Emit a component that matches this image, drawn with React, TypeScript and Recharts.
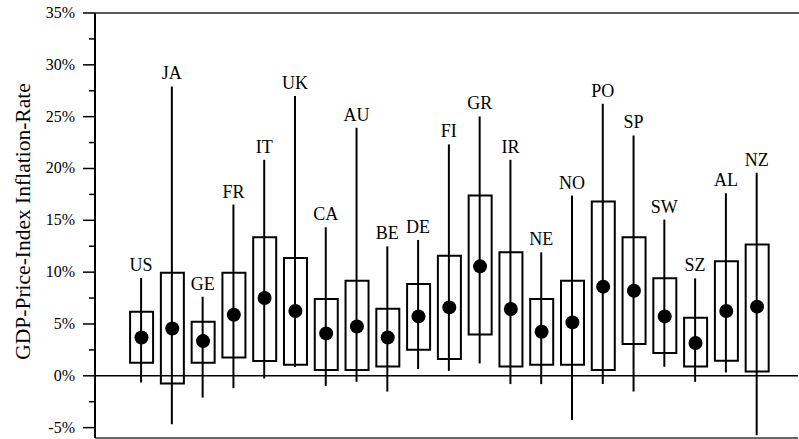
import React from 'react';
import { ComposedChart, Bar, Line, XAxis, YAxis, ReferenceLine, LabelList } from 'recharts';

const countries = ['US', 'JA', 'GE', 'FR', 'IT', 'UK', 'CA', 'AU', 'BE', 'DE', 'FI', 'GR', 'IR', 'NE', 'NO', 'PO', 'SP', 'SW', 'SZ', 'AL', 'NZ'];
const maxRate = [9.44, 27.92, 7.63, 16.52, 20.84, 26.99, 14.33, 23.93, 12.49, 13.11, 22.32, 25.02, 20.84, 11.91, 17.39, 26.25, 23.19, 15.07, 9.4, 17.61, 19.58];
const minRate = [-0.65, -4.67, -2.1, -1.19, -0.26, 0.84, -0.97, -0.58, -1.52, 0.65, 0.48, 1.19, -0.8, -0.8, -4.25, -0.8, -1.52, 0.87, -0.58, 0.32, -5.73];
const boxHigh = [6.18, 9.95, 5.22, 9.95, 13.36, 11.37, 7.41, 9.18, 6.47, 8.86, 11.59, 17.39, 11.91, 7.41, 9.18, 16.81, 13.36, 9.4, 5.6, 11.04, 12.66];
const boxLow = [1.26, -0.74, 1.26, 1.77, 1.42, 1.06, 0.55, 0.55, 0.9, 2.51, 1.61, 3.99, 0.9, 1.06, 1.06, 0.55, 3.06, 2.19, 0.9, 1.45, 0.42];
const meanRate = [3.7, 4.57, 3.35, 5.89, 7.51, 6.25, 4.09, 4.76, 3.7, 5.73, 6.6, 10.56, 6.44, 4.25, 5.15, 8.6, 8.21, 5.73, 3.16, 6.25, 6.67];
const yTicks = [-5, -2.5, 0, 2.5, 5, 7.5, 10, 12.5, 15, 17.5, 20, 22.5, 25, 27.5, 30, 32.5, 35];

const data = countries.map((name, i) => ({
  idx: i,
  name,
  whisker: [minRate[i], maxRate[i]],
  box: [boxLow[i], boxHigh[i]],
  mean: meanRate[i],
}));

const W = 799;
const H = 439;
const font = 'Liberation Serif';
const xDomain = [-1.51, 21.33];
const yDomain = [-6, 35];

const YTick = (props: any) => {
  const { x, y, payload } = props;
  const major = payload.value % 5 === 0;
  return (
    <g>
      <line x1={x - (major ? 12 : 6)} x2={x} y1={y} y2={y} stroke="#000" strokeWidth={1.5} />
      {major && (
        <text x={x - 20} y={y} dy={5} textAnchor="end" fontSize={16} style={{ fontFamily: font }} fill="#000">
          {payload.value}%
        </text>
      )}
    </g>
  );
};

// axis title, plus the top edge of the plot frame (starts where the y axis sits)
const YLabel = (props: any) => {
  const { viewBox } = props;
  const cx = 23;
  const cy = viewBox.y + viewBox.height / 2 - 4;
  const left = viewBox.x + viewBox.width;
  return (
    <g>
      <line x1={left} x2={W} y1={viewBox.y} y2={viewBox.y} stroke="#222" strokeWidth={1.5} />
      <text x={cx} y={cy} transform={`rotate(-90, ${cx}, ${cy})`} textAnchor="middle" dominantBaseline="central" fontSize={21.5} style={{ fontFamily: font }} fill="#000">
        GDP-Price-Index Inflation-Rate
      </text>
    </g>
  );
};

const Dot = (props: any) => {
  const { cx, cy } = props;
  if (cx == null || cy == null) return null;
  return <circle cx={cx} cy={cy} r={7} fill="#000" />;
};

export default function App() {
  return (
    <div style={{ position: 'absolute', left: 0, top: 0, background: '#fff' }}>
      <ComposedChart width={W} height={H} data={data} margin={{ top: 13, right: 1, bottom: 1, left: 0 }}>
        <XAxis xAxisId="main" dataKey="idx" type="number" domain={xDomain} allowDataOverflow hide />
        <XAxis xAxisId="box" dataKey="idx" type="number" domain={xDomain} allowDataOverflow hide />
        <YAxis
          width={95}
          domain={yDomain}
          ticks={yTicks}
          interval={0}
          allowDataOverflow
          tickSize={0}
          tickMargin={0}
          tick={<YTick />}
          axisLine={{ stroke: '#000', strokeWidth: 2 }}
          label={<YLabel />}
        />
        <ReferenceLine xAxisId="main" y={yDomain[0]} stroke="#333" strokeWidth={1.5} ifOverflow="visible" />
        <ReferenceLine xAxisId="main" y={0} stroke="#000" strokeWidth={1.5} />
        <Bar xAxisId="box" dataKey="box" barSize={23} fill="none" stroke="#000" strokeWidth={2} isAnimationActive={false} />
        <Bar xAxisId="main" dataKey="whisker" barSize={2} fill="#000" isAnimationActive={false}>
          <LabelList dataKey="name" position="top" offset={7} fontSize={18} style={{ fontFamily: font }} fill="#000" />
        </Bar>
        <Line xAxisId="main" dataKey="mean" stroke="none" dot={<Dot />} activeDot={false} isAnimationActive={false} />
      </ComposedChart>
    </div>
  );
}
